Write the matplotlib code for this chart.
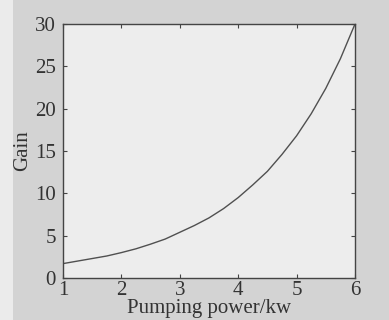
import matplotlib
matplotlib.use("Agg")
import matplotlib.pyplot as plt
from matplotlib.patches import Rectangle

power = [1.0, 1.25, 1.5, 1.75, 2.0, 2.25, 2.5, 2.75, 3.0, 3.25, 3.5,
         3.75, 4.0, 4.25, 4.5, 4.75, 5.0, 5.25, 5.5, 5.75, 6.0]
gain = [1.7, 2.0, 2.3, 2.6, 3.0, 3.45, 4.0, 4.6, 5.4, 6.2, 7.1,
        8.2, 9.5, 11.0, 12.6, 14.6, 16.8, 19.4, 22.4, 25.9, 30.0]
xticks = [1, 2, 3, 4, 5, 6]
yticks = [0, 5, 10, 15, 20, 25, 30]

plt.rcParams['font.family'] = ['Liberation Serif', 'DejaVu Serif']

fig = plt.figure(figsize=(3.89, 3.2), dpi=100, facecolor='#d3d3d3')
fig.patches.append(Rectangle((0, 0), 13 / 389, 1, transform=fig.transFigure,
                             facecolor='#ebebeb', edgecolor='none', zorder=0))
ax = fig.add_axes([63 / 389, 1 - 278 / 320, (355 - 63) / 389, (278 - 24) / 320])
ax.set_facecolor('#ededed')
ax.plot(power, gain, color='#505050', lw=1.0)
ax.set_xlim(1, 6)
ax.set_ylim(0, 30)
ax.set_xticks(xticks)
ax.set_yticks(yticks)
ax.tick_params(direction='in', length=3, width=0.8, color='#444444',
               labelsize=15, labelcolor='#333333', top=True, right=True, pad=3)
ax.tick_params(axis='y', pad=5)
ax.tick_params(axis='x', pad=2)
for s in ax.spines.values():
    s.set_color('#444444')
    s.set_linewidth(1.0)
ax.set_xlabel('Pumping power/kw', fontsize=15, color='#333333', labelpad=-0.5)
ax.set_ylabel('Gain', fontsize=15, color='#333333', labelpad=2)
fig.savefig('out.png', dpi=100, facecolor=fig.get_facecolor())
